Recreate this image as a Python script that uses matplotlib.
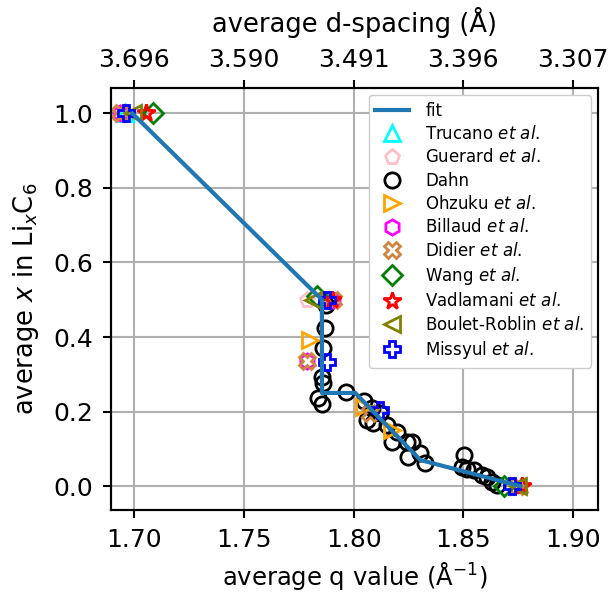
import numpy as np
import matplotlib
matplotlib.use("Agg")
import matplotlib.pyplot as plt

# ---- data ----
fit_q = [1.699, 1.7855, 1.7855, 1.8007, 1.8304, 1.876]
fit_x = [1.0, 0.5, 0.25, 0.25, 0.07, 0.0]

trucano_q = [1.6955]
trucano_x = [1.0]
guerard_q = [1.6945, 1.7786]
guerard_x = [1.0, 0.5]
dahn_q = [1.7874, 1.7870, 1.7861, 1.7856, 1.7861, 1.7838, 1.7856, 1.7966, 1.8048,
          1.8062, 1.8089, 1.8121, 1.8084, 1.8153, 1.8176, 1.8199, 1.8244, 1.8267,
          1.8249, 1.8304, 1.8326, 1.8501, 1.8494, 1.8517, 1.8547, 1.8585, 1.8608,
          1.8631, 1.8654]
dahn_x = [0.486, 0.424, 0.370, 0.292, 0.276, 0.236, 0.220, 0.252, 0.228,
          0.177, 0.169, 0.196, 0.209, 0.164, 0.118, 0.145, 0.118, 0.118,
          0.078, 0.089, 0.062, 0.083, 0.052, 0.047, 0.043, 0.030, 0.025,
          0.012, 0.003]
ohzuku_q = [1.7801, 1.8045, 1.8174, 1.8753]
ohzuku_x = [0.392, 0.213, 0.150, 0.0]
billaud_q = [1.6934, 1.7906, 1.7788]
billaud_x = [1.0, 0.5, 0.335]
didier_q = [1.6934, 1.7906, 1.7788, 1.8075, 1.8750]
didier_x = [1.0, 0.5, 0.335, 0.195, 0.0]
wang_q = [1.7084, 1.7832, 1.8684]
wang_x = [1.0, 0.51, 0.0]
vadlamani_q = [1.7053, 1.7900, 1.8768]
vadlamani_x = [1.0, 0.5, 0.0]
boulet_q = [1.6993, 1.7815, 1.8750]
boulet_x = [1.0, 0.5, 0.0]
missyul_q = [1.6961, 1.7879, 1.7879, 1.8121, 1.8722]
missyul_x = [1.0, 0.5, 0.334, 0.204, 0.0]

xticks = [1.70, 1.75, 1.80, 1.85, 1.90]
yticks = [0.0, 0.2, 0.4, 0.6, 0.8, 1.0]

plt.rcParams['font.family'] = ['DejaVu Sans']
plt.rcParams['mathtext.fontset'] = 'dejavusans'

TICK_FS = 18
LABEL_FS = 18.5

fig = plt.figure(figsize=(6.11, 5.97), dpi=100)
ax = fig.add_axes([0.1817, 0.1457, 0.797, 0.7063])

fitline, = ax.plot(fit_q, fit_x, color='#1f77b4', lw=3, zorder=5, label='fit')

ms = 11
mew = 2
series = [
    (trucano_q, trucano_x, '^', 'cyan', r'Trucano $et\ al$.'),
    (guerard_q, guerard_x, 'p', 'pink', r'Guerard $et\ al$.'),
    (dahn_q, dahn_x, 'o', 'black', 'Dahn'),
    (ohzuku_q, ohzuku_x, '>', 'orange', r'Ohzuku $et\ al$.'),
    (billaud_q, billaud_x, 'h', 'magenta', r'Billaud $et\ al$.'),
    (didier_q, didier_x, 'X', 'peru', r'Didier $et\ al$.'),
    (wang_q, wang_x, 'D', 'green', r'Wang $et\ al$.'),
    (vadlamani_q, vadlamani_x, '*', 'red', r'Vadlamani $et\ al$.'),
    (boulet_q, boulet_x, '<', 'olive', r'Boulet-Roblin $et\ al$.'),
    (missyul_q, missyul_x, 'P', 'blue', r'Missyul $et\ al$.'),
]
for q, x, m, c, lab in series:
    msz = ms + 2 if m == '*' else (ms - 1 if m == 'D' else ms)
    ax.plot(q, x, ls='none', marker=m, ms=msz, mfc='none', mec=c, mew=mew,
            label=lab, zorder=3)

xlim = (1.6893, 1.9114)
ax.set_xlim(*xlim)
ax.set_ylim(-0.064, 1.067)
ax.set_xticks(xticks)
ax.set_yticks(yticks)
ax.set_xticklabels([f"{t:.2f}" for t in xticks])
ax.set_yticklabels([f"{t:.1f}" for t in yticks])
ax.grid(True, color='#b0b0b0', lw=1.5)
ax.set_axisbelow(True)
ax.tick_params(labelsize=TICK_FS, width=1.5, length=6, pad=7)
for s in ax.spines.values():
    s.set_linewidth(1.5)
ax.set_xlabel(r'average q value (Å$^{-1}$)', fontsize=17.5, labelpad=6)
ax.set_ylabel(r'average $x$ in Li$_x$C$_6$', fontsize=LABEL_FS, labelpad=9)

ax2 = ax.twiny()
ax2.set_xlim(*xlim)
ax2.set_xticks(xticks)
ax2.set_xticklabels([f"{2*np.pi/t:.3f}" for t in xticks])
ax2.tick_params(labelsize=TICK_FS, width=1.5, length=6, pad=6)
for s in ax2.spines.values():
    s.set_linewidth(1.5)
ax2.set_xlabel('average d-spacing (Å)', fontsize=LABEL_FS, labelpad=11)

leg = ax.legend(loc='upper right', fontsize=12, framealpha=1, edgecolor='#cccccc',
                labelspacing=0.32, handletextpad=1.0, borderaxespad=0.4)

fig.savefig('out.png', dpi=100)
